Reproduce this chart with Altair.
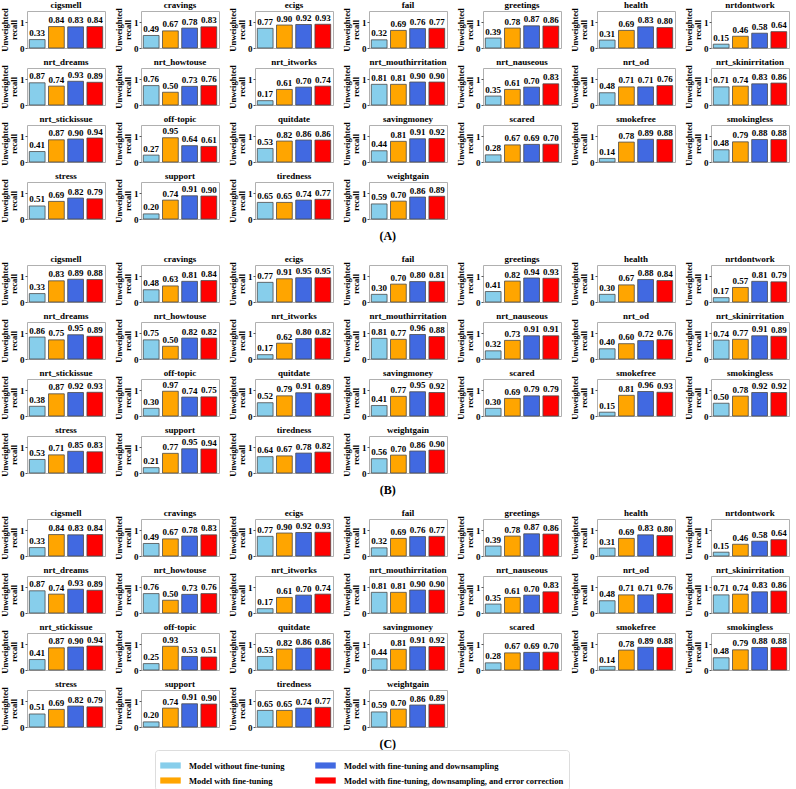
import altair as alt
import pandas as pd

# Intent categories shown as small panels
categories = [
    "cigsmell", "cravings", "ecigs", "fail", "greetings", "health", "nrtdontwork",
    "nrt_dreams", "nrt_howtouse", "nrt_itworks", "nrt_mouthirritation", "nrt_nauseous",
    "nrt_od", "nrt_skinirritation", "nrt_stickissue", "off-topic", "quitdate",
    "savingmoney", "scared", "smokefree", "smokingless", "stress", "support",
    "tiredness", "weightgain",
]

models = [
    "Model without fine-tuning",
    "Model with fine-tuning",
    "Model with fine-tuning and downsampling",
    "Model with fine-tuning, downsampling, and error correction",
]
model_colors = ["#87CEEB", "#FFA500", "#4169E1", "#FF0000"]

# (A)
a_base = [0.33, 0.49, 0.77, 0.32, 0.39, 0.31, 0.15, 0.87, 0.76, 0.17, 0.81, 0.35, 0.48,
          0.71, 0.41, 0.27, 0.53, 0.44, 0.28, 0.14, 0.48, 0.51, 0.20, 0.65, 0.59]
a_ft = [0.84, 0.67, 0.90, 0.69, 0.78, 0.69, 0.46, 0.74, 0.50, 0.61, 0.81, 0.61, 0.71,
        0.74, 0.87, 0.95, 0.82, 0.81, 0.67, 0.78, 0.79, 0.69, 0.74, 0.65, 0.70]
a_ds = [0.83, 0.78, 0.92, 0.76, 0.87, 0.83, 0.58, 0.93, 0.73, 0.70, 0.90, 0.70, 0.71,
        0.83, 0.90, 0.64, 0.86, 0.91, 0.69, 0.89, 0.88, 0.82, 0.91, 0.74, 0.86]
a_ec = [0.84, 0.83, 0.93, 0.77, 0.86, 0.80, 0.64, 0.89, 0.76, 0.74, 0.90, 0.83, 0.76,
        0.86, 0.94, 0.61, 0.86, 0.92, 0.70, 0.88, 0.88, 0.79, 0.90, 0.77, 0.89]

# (B)
b_base = [0.33, 0.48, 0.77, 0.30, 0.41, 0.30, 0.17, 0.86, 0.75, 0.17, 0.81, 0.32, 0.40,
          0.74, 0.38, 0.30, 0.52, 0.41, 0.30, 0.15, 0.50, 0.53, 0.21, 0.64, 0.56]
b_ft = [0.83, 0.63, 0.91, 0.70, 0.82, 0.67, 0.57, 0.75, 0.50, 0.62, 0.77, 0.73, 0.60,
        0.77, 0.87, 0.97, 0.79, 0.77, 0.69, 0.81, 0.78, 0.71, 0.77, 0.67, 0.70]
b_ds = [0.89, 0.81, 0.95, 0.80, 0.94, 0.88, 0.81, 0.95, 0.82, 0.80, 0.96, 0.91, 0.72,
        0.91, 0.92, 0.74, 0.91, 0.95, 0.79, 0.96, 0.92, 0.85, 0.95, 0.78, 0.86]
b_ec = [0.88, 0.84, 0.95, 0.81, 0.93, 0.84, 0.79, 0.89, 0.82, 0.82, 0.88, 0.91, 0.76,
        0.89, 0.93, 0.75, 0.89, 0.92, 0.79, 0.93, 0.92, 0.83, 0.94, 0.82, 0.90]

# (C)
c_base = [0.33, 0.49, 0.77, 0.32, 0.39, 0.31, 0.15, 0.87, 0.76, 0.17, 0.81, 0.35, 0.48,
          0.71, 0.41, 0.25, 0.53, 0.44, 0.28, 0.14, 0.48, 0.51, 0.20, 0.65, 0.59]
c_ft = [0.84, 0.67, 0.90, 0.69, 0.78, 0.69, 0.46, 0.74, 0.50, 0.61, 0.81, 0.61, 0.71,
        0.74, 0.87, 0.93, 0.82, 0.81, 0.67, 0.78, 0.79, 0.69, 0.74, 0.65, 0.70]
c_ds = [0.83, 0.78, 0.92, 0.76, 0.87, 0.83, 0.58, 0.93, 0.73, 0.70, 0.90, 0.70, 0.71,
        0.83, 0.90, 0.53, 0.86, 0.91, 0.69, 0.89, 0.88, 0.82, 0.91, 0.74, 0.86]
c_ec = [0.84, 0.83, 0.93, 0.77, 0.86, 0.80, 0.64, 0.89, 0.76, 0.74, 0.90, 0.83, 0.76,
        0.86, 0.94, 0.51, 0.86, 0.92, 0.70, 0.88, 0.88, 0.79, 0.90, 0.77, 0.89]

SERIF = "Liberation Serif"


def to_frame(series_list):
    rows = []
    for model, series in zip(models, series_list):
        for cat, v in zip(categories, series):
            rows.append({"cat": cat, "model": model, "value": v})
    return pd.DataFrame(rows)


def section(series_list, label):
    df = to_frame(series_list)
    base = alt.Chart(df).encode(
        x=alt.X("model:N", sort=models, axis=None,
                scale=alt.Scale(paddingInner=0.18, paddingOuter=0.12)),
        y=alt.Y("value:Q",
                scale=alt.Scale(domain=[0, 1.45], nice=False, zero=True),
                axis=alt.Axis(values=[0, 1], format="d", grid=False, domain=False,
                              title=["Unweighted", "recall"],
                              titleFont=SERIF, titleFontWeight="bold", titleFontSize=8.5,
                              titleLineHeight=9, titlePadding=1, titleColor="black",
                              labelFont=SERIF, labelFontWeight="bold", labelFontSize=9,
                              labelColor="black", labelPadding=1,
                              tickSize=2, tickColor="#555")),
    )
    bars = base.mark_bar(stroke="#4a4a4a", strokeWidth=0.8).encode(
        color=alt.Color("model:N",
                        scale=alt.Scale(domain=models, range=model_colors),
                        legend=alt.Legend(title=None, orient="none", legendX=128, legendY=739,
                                          columns=2))
    )
    texts = base.mark_text(baseline="bottom", dy=-1.5, font=SERIF, fontWeight="bold",
                           fontSize=9, color="black").encode(
        text=alt.Text("value:Q", format=".2f")
    )
    return alt.layer(bars, texts).properties(width=78, height=37).facet(
        facet=alt.Facet("cat:N", sort=categories, title=None,
                        header=alt.Header(labelFont=SERIF, labelFontWeight="bold",
                                          labelFontSize=9, labelColor="black",
                                          labelPadding=-2)),
        columns=7,
        spacing={"row": 20, "column": 36},
        bounds="flush",
        title=alt.TitleParams(label, orient="bottom", anchor="middle", dx=-7,
                              font=SERIF, fontWeight="bold", fontSize=12, color="black",
                              offset=6),
    ).resolve_axis(y="independent")


chart = alt.vconcat(
    section([a_base, a_ft, a_ds, a_ec], "(A)"),
    section([b_base, b_ft, b_ds, b_ec], "(B)"),
    section([c_base, c_ft, c_ds, c_ec], "(C)"),
    spacing=12,
).properties(
    padding={"left": 0, "top": 0, "right": 0, "bottom": 0},
    background="white",
).configure_view(
    stroke="#b0b0b0", strokeWidth=1
).configure_legend(
    labelFont=SERIF, labelFontWeight="bold", labelFontSize=8.5, labelColor="black",
    labelLimit=400, gridAlign="each",
    symbolType="M-1,-0.3L1,-0.3L1,0.3L-1,0.3Z", symbolSize=420, symbolStrokeWidth=0,
    symbolOpacity=1,
    strokeColor="#dddddd", padding=5, cornerRadius=3, fillColor="white",
    columnPadding=30, rowPadding=0, labelOffset=8,
)

chart.save("out.html", embed_options={"renderer": "svg", "actions": False})
